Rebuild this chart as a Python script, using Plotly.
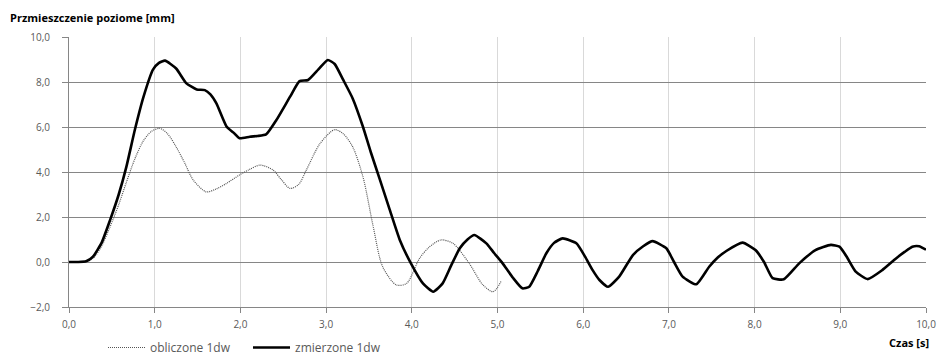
import plotly.graph_objects as go

# Czas [s] i przemieszczenie [mm] - pomiar (zmierzone 1dw)
t_meas = [0.0, 0.10, 0.20, 0.28, 0.38, 0.48, 0.58, 0.67, 0.77, 0.87, 0.98, 1.05, 1.12,
          1.25, 1.37, 1.49, 1.585, 1.65, 1.72, 1.84, 1.92, 1.99, 2.11, 2.20, 2.30, 2.42,
          2.58, 2.69, 2.79, 2.91, 3.02, 3.10, 3.20, 3.31, 3.43, 3.52, 3.62, 3.74, 3.86,
          3.99, 4.13, 4.25, 4.36, 4.46, 4.56, 4.65, 4.73, 4.87, 4.96, 5.06, 5.18, 5.29,
          5.37, 5.47, 5.57, 5.66, 5.76, 5.92, 6.02, 6.11, 6.19, 6.29, 6.42, 6.58, 6.70,
          6.81, 6.97, 7.06, 7.16, 7.32, 7.47, 7.57, 7.67, 7.86, 8.01, 8.11, 8.21, 8.34,
          8.52, 8.71, 8.89, 8.99, 9.08, 9.18, 9.32, 9.49, 9.65, 9.75, 9.84, 9.92, 10.0]
v_meas = [0.00, 0.00, 0.03, 0.24, 0.85, 1.87, 3.00, 4.24, 5.90, 7.35, 8.55, 8.85, 8.95,
          8.60, 7.94, 7.67, 7.64, 7.45, 7.05, 6.01, 5.75, 5.50, 5.57, 5.60, 5.67, 6.31,
          7.35, 8.04, 8.09, 8.56, 8.98, 8.80, 8.09, 7.27, 6.01, 4.90, 3.75, 2.35, 0.98,
          -0.06, -0.95, -1.32, -0.95, -0.15, 0.61, 1.00, 1.20, 0.83, 0.40, -0.06, -0.70,
          -1.17, -1.10, -0.40, 0.39, 0.85, 1.05, 0.83, 0.25, -0.36, -0.80, -1.10, -0.65,
          0.31, 0.70, 0.93, 0.61, 0.00, -0.65, -0.99, -0.21, 0.20, 0.49, 0.86, 0.53,
          0.00, -0.72, -0.77, -0.06, 0.53, 0.76, 0.68, 0.20, -0.43, -0.76, -0.36, 0.16,
          0.45, 0.68, 0.70, 0.55]

# Przemieszczenie obliczone (obliczone 1dw)
t_calc = [0.0, 0.10, 0.20, 0.28, 0.38, 0.48, 0.58, 0.67, 0.77, 0.87, 0.96, 1.06, 1.15,
          1.25, 1.35, 1.45, 1.60, 1.72, 1.84, 1.99, 2.10, 2.23, 2.38, 2.48, 2.58, 2.68,
          2.77, 2.93, 3.10, 3.20, 3.31, 3.43, 3.55, 3.66, 3.82, 3.94, 4.09, 4.20, 4.34,
          4.48, 4.67, 4.83, 4.95, 5.04]
v_calc = [0.00, 0.00, 0.02, 0.16, 0.70, 1.57, 2.55, 3.55, 4.60, 5.40, 5.80, 5.94, 5.70,
          5.12, 4.40, 3.64, 3.12, 3.25, 3.50, 3.87, 4.10, 4.31, 4.09, 3.65, 3.27, 3.45,
          4.09, 5.27, 5.88, 5.70, 5.12, 3.79, 1.57, -0.21, -1.02, -0.95, 0.16, 0.65, 0.98,
          0.83, -0.06, -1.02, -1.32, -0.87]

x_ticks = [0, 1, 2, 3, 4, 5, 6, 7, 8, 9, 10]
y_ticks = [-2, 0, 2, 4, 6, 8, 10]
series_names = ["obliczone 1dw", "zmierzone 1dw"]

font_family = "'Open Sans', Lato, sans-serif"
label_color = "#595959"
calc_style = dict(color="#555555", width=1.2, dash="1px,1px")
meas_style = dict(color="#000000", width=2.6)

fig = go.Figure()
fig.add_trace(go.Scatter(
    x=t_calc, y=v_calc, mode="lines", name=series_names[0],
    line=dict(**calc_style, shape="spline", smoothing=0.8),
))
fig.add_trace(go.Scatter(
    x=t_meas, y=v_meas, mode="lines", name=series_names[1],
    line=dict(**meas_style, shape="spline", smoothing=0.5),
))

# legenda pod wykresem: krotkie odcinki linii i opisy serii
legend_y = -0.150
legend_items = [(0.0455, 0.0887, calc_style, series_names[0]),
                (0.2147, 0.2579, meas_style, series_names[1])]
shapes = []
annotations = []
for x0, x1, style, label in legend_items:
    shapes.append(dict(type="line", xref="paper", yref="paper", x0=x0, x1=x1,
                       y0=legend_y, y1=legend_y, line=style))
    annotations.append(dict(text=label, xref="paper", yref="paper", x=x1 + 0.004,
                            y=legend_y, xanchor="left", yanchor="middle",
                            showarrow=False,
                            font=dict(size=12, color=label_color, family=font_family)))

annotations += [
    dict(text="<b>Przmieszczenie poziome [mm]</b>", xref="paper", yref="paper",
         x=-0.0712, y=1.074, xanchor="left", yanchor="middle", showarrow=False,
         font=dict(size=11, color="#000000", family=font_family)),
    dict(text="<b>Czas [s]</b>", xref="paper", yref="paper",
         x=1.006, y=-0.133, xanchor="right", yanchor="middle", showarrow=False,
         font=dict(size=11, color="#000000", family=font_family)),
]

fig.update_layout(
    width=943, height=355,
    margin=dict(l=69, r=17, t=37, b=48, autoexpand=False),
    paper_bgcolor="white", plot_bgcolor="white",
    separators=", ",
    font=dict(family=font_family, size=10, color=label_color),
    showlegend=False,
    xaxis=dict(
        range=[0, 10], tickvals=x_ticks, tickformat=".1f",
        showgrid=True, gridcolor="#d9d9d9", gridwidth=1,
        showline=True, linecolor="#868686", linewidth=1,
        ticks="outside", ticklen=5, tickcolor="#868686",
        ticklabelstandoff=3,
        zeroline=False, tickfont=dict(size=10, color=label_color),
    ),
    yaxis=dict(
        range=[-2, 10], tickvals=y_ticks, tickformat=".1f",
        showgrid=True, gridcolor="#868686", gridwidth=1,
        showline=True, linecolor="#868686", linewidth=1,
        ticks="outside", ticklen=6, tickcolor="#868686",
        ticklabelstandoff=10,
        zeroline=False, tickfont=dict(size=10, color=label_color),
    ),
    shapes=shapes,
    annotations=annotations,
)

fig.write_html("out.html")
